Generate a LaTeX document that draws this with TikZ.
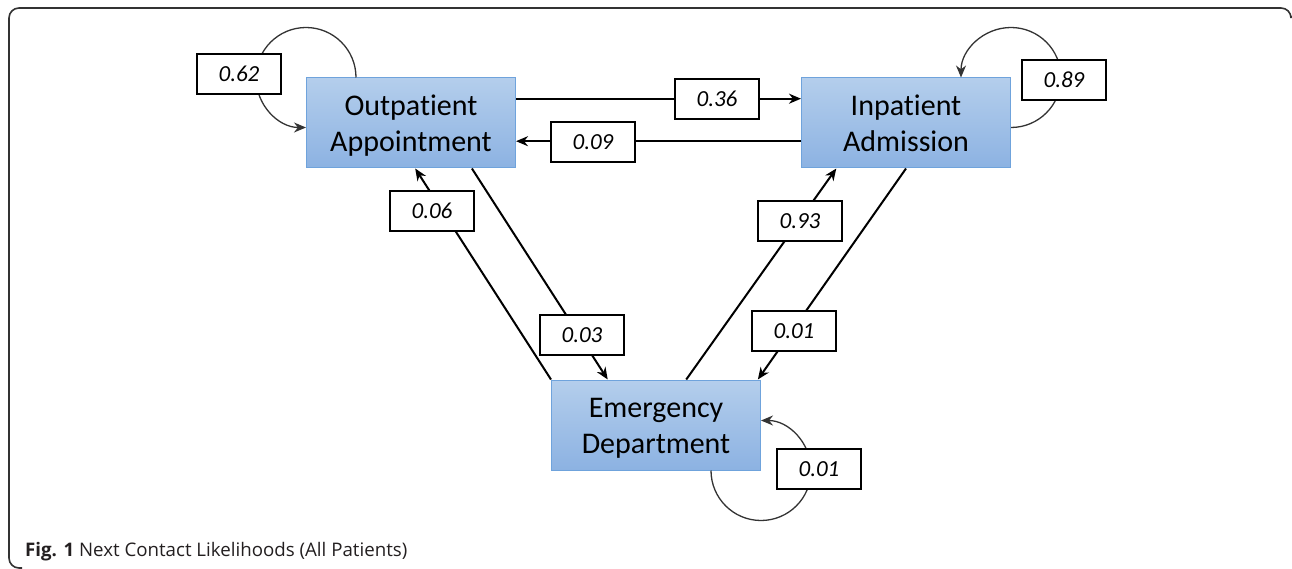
\documentclass[tikz,border=0pt]{standalone}
\usepackage{fontspec}
\setmainfont{Carlito}[Ligatures=NoCommon]
\newfontfamily\capfont{Open Sans}
\usetikzlibrary{calc,arrows.meta}
\definecolor{boxtop}{HTML}{B4CEEC}
\definecolor{boxbot}{HTML}{8CB2E2}
\definecolor{boxedge}{HTML}{6FA3DC}
\definecolor{loopcol}{HTML}{333333}
\definecolor{capcol}{HTML}{231F20}
\newcommand{\twolines}[2]{\raisebox{-3pt}[\height][\depth]{\begin{tabular}{@{}c@{}}#1\\#2\end{tabular}}}
\begin{document}
\begin{tikzpicture}[x=1pt,y=1pt,
  state/.style={draw=boxedge, line width=1pt, top color=boxtop, bottom color=boxbot,
    minimum width=209pt, minimum height=90pt, align=center, inner sep=0pt,
    font=\fontsize{30}{36}\selectfont},
  prob/.style={draw=black, fill=white, line width=1.2pt, minimum width=84pt,
    minimum height=40pt, inner sep=0pt, font=\fontsize{23}{26}\selectfont\itshape},
  arr/.style={line width=2pt, -{Stealth[length=12pt,width=10pt]}},
  selfloop/.style={line width=1.3pt, draw=loopcol, -{Stealth[length=12pt,width=10pt]}},
  frame/.style={line width=1.6pt, draw=loopcol, rounded corners=10pt}
]
\useasboundingbox (0,0) rectangle (1292,-569);
\draw[frame] (1291,-16) |- (9,-8) |- (22,-568);

\node[state] (oa) at (411,-123) {\twolines{Outpatient}{Appointment}};
\node[state] (ia) at (906,-123) {\twolines{Inpatient}{Admission}};
\node[state] (ed) at (656,-425) {\twolines{Emergency}{Department}};

% connectors
\draw[arr] ($(oa.north east)!0.233!(oa.south east)$) -- ($(ia.north west)!0.233!(ia.south west)$);
\draw[arr] ($(ia.north west)!0.7!(ia.south west)$) -- ($(oa.north east)!0.7!(oa.south east)$);
\draw[arr] (ed.north west) -- ($(oa.south west)!0.52!(oa.south east)$);
\draw[arr] ($(oa.south west)!0.79!(oa.south east)$) -- ($(ed.north west)!0.27!(ed.north east)$);
\draw[arr] ($(ed.north west)!0.644!(ed.north east)$) -- ($(ia.south west)!0.168!(ia.south east)$);
\draw[arr] (ia.south) -- ($(ed.north west)!0.985!(ed.north east)$);

% self loops
\draw[selfloop] ($(oa.north west)+(50,0)$) arc[start angle=0, end angle=270, radius=50pt];
\draw[selfloop] ($(ia.north east)+(0,-50)$) arc[start angle=-90, end angle=180, radius=50pt];
\draw[selfloop] ($(ed.south east)+(-50,0)$) arc[start angle=180, end angle=450, radius=50pt];

% labels
\node[prob] (l62) at (239,-74) {0.62};
\node[prob] (l89) at (1064,-80) {0.89};
\node[prob] (l36) at (717,-99) {0.36};
\node[prob] (l09) at (593,-142) {0.09};
\node[prob] (l06) at (432,-211) {0.06};
\node[prob] (l03) at (582,-335) {0.03};
\node[prob] (l93) at (800,-221) {0.93};
\node[prob] (l01a) at (794,-331) {0.01};
\node[prob] (l01b) at (819,-469) {0.01};

\node[anchor=base west, inner sep=0pt, text=capcol, font=\capfont\fontsize{18.7}{21}\selectfont]
  (cap) at (25,-556) {\textbf{Fig. 1} Next Contact Likelihoods (All Patients)};
\end{tikzpicture}
\end{document}
